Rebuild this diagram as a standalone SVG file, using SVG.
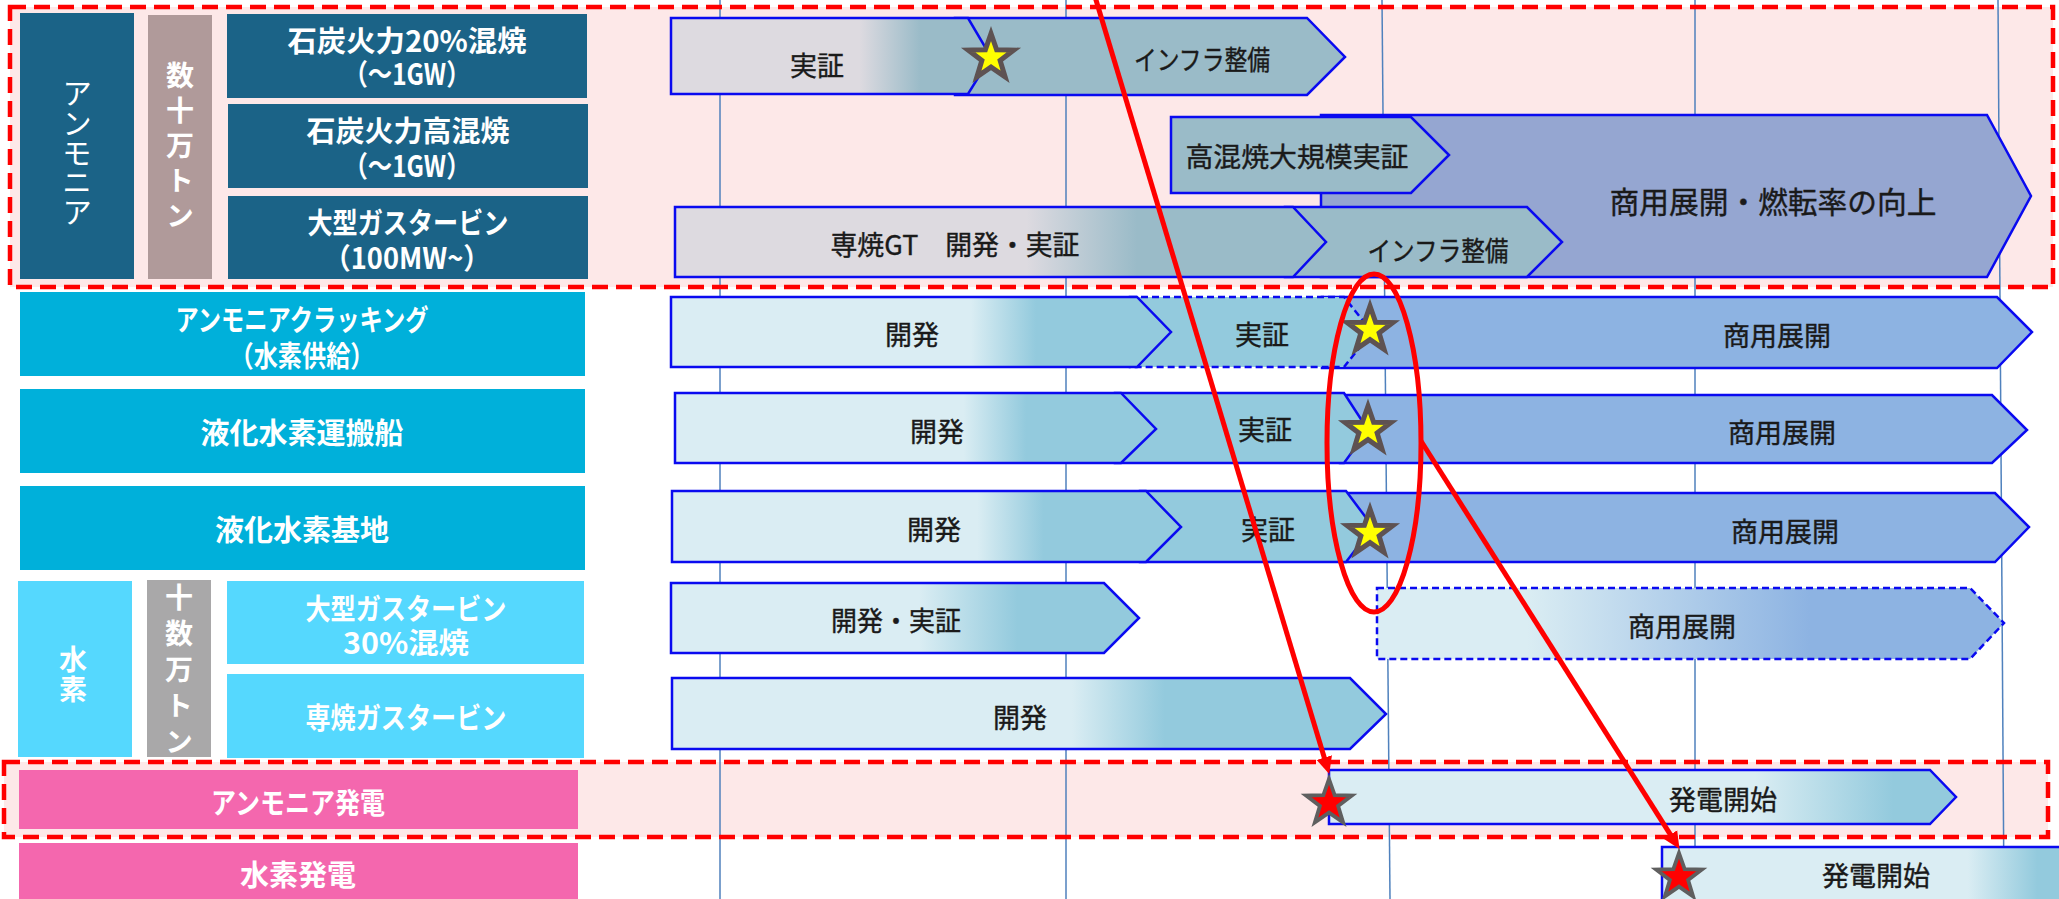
<svg xmlns="http://www.w3.org/2000/svg" width="2059" height="899" viewBox="0 0 2059 899">
<style>
.lbl{font-family:"Noto Sans CJK JP","Noto Sans",sans-serif;font-weight:bold;font-size:29px;fill:#ffffff;text-anchor:middle;dominant-baseline:central}
.vt{font-family:"Noto Sans CJK JP","Noto Sans",sans-serif;font-weight:bold;font-size:28px;fill:#ffffff;text-anchor:middle;dominant-baseline:central;writing-mode:vertical-rl}
.vtn{font-family:"Noto Sans CJK JP","Noto Sans",sans-serif;font-weight:normal;font-size:30px;fill:#ffffff;text-anchor:middle;dominant-baseline:central;writing-mode:vertical-rl}
.t{font-family:"Noto Sans CJK JP","Noto Sans",sans-serif;font-size:27px;fill:#1a1a1a;stroke:#1a1a1a;stroke-width:0.4;text-anchor:middle;dominant-baseline:central}
.bar{stroke:#0A0AF0;stroke-width:2.5;stroke-linejoin:miter}
.dash{stroke-dasharray:7 4}
.grid{stroke:#4F81BD;stroke-width:1.5}
.zone{fill:#FDE8E8}
.zoneb{fill:none;stroke:#FF0000;stroke-width:4.5;stroke-dasharray:16 8}
.ys{fill:#FFFF00;stroke:#5E5252;stroke-width:5}
.rs{fill:#FF0000;stroke:#5F5F5F;stroke-width:3.8}
.arr{stroke:#FF0000;stroke-width:5;fill:none}
.dk{fill:#1B6387}
.rg{fill:#B09A9A}
.cy{fill:#00B0DA}
.lc{fill:#55D8FE}
.gy{fill:#A9A8A9}
.pk{fill:#F467AE}
</style>
<defs>
<linearGradient id="g1" x1="0" y1="0" x2="1" y2="0"><stop offset="0.59" stop-color="#DDDAE0"/><stop offset="0.78" stop-color="#9ABBC8"/></linearGradient>
<linearGradient id="g3" x1="0" y1="0" x2="1" y2="0"><stop offset="0.54" stop-color="#DDDAE0"/><stop offset="0.71" stop-color="#9ABBC8"/></linearGradient>
<linearGradient id="gd" x1="0" y1="0" x2="1" y2="0"><stop offset="0.6" stop-color="#DAEDF3"/><stop offset="0.73" stop-color="#93CADD"/></linearGradient>
<linearGradient id="g7" x1="0" y1="0" x2="1" y2="0"><stop offset="0.53" stop-color="#DAEDF3"/><stop offset="0.74" stop-color="#93CADD"/></linearGradient>
<linearGradient id="g7b" x1="0" y1="0" x2="1" y2="0"><stop offset="0.24" stop-color="#DAEDF3"/><stop offset="0.69" stop-color="#8DB3E2"/></linearGradient>
<linearGradient id="g8" x1="0" y1="0" x2="1" y2="0"><stop offset="0.56" stop-color="#DAEDF3"/><stop offset="0.69" stop-color="#93CADD"/></linearGradient>
<linearGradient id="g9" x1="0" y1="0" x2="1" y2="0"><stop offset="0.68" stop-color="#DAEDF3"/><stop offset="0.9" stop-color="#93CADD"/></linearGradient>
<linearGradient id="g10" x1="0" y1="0" x2="1" y2="0"><stop offset="0.75" stop-color="#DAEDF3"/><stop offset="0.92" stop-color="#93CADD"/></linearGradient>
<path id="star" d="M0,-24 L5.64,-7.77 L22.83,-7.42 L9.13,2.97 L14.11,19.42 L0,9.6 L-14.11,19.42 L-9.13,2.97 L-22.83,-7.42 L-5.64,-7.77 Z"/>
<marker id="ah" markerUnits="userSpaceOnUse" markerWidth="17" markerHeight="17" viewBox="0 0 17 17" refX="8" refY="8.5" orient="auto"><path d="M0,0.5 L17,8.5 L0,16.5 Z" fill="#FF0000"/></marker>
</defs>

<rect width="2059" height="899" fill="#ffffff"/>

<g id="zones-bg">
<rect class="zone" x="10" y="7" width="2043" height="280"/>
<rect class="zone" x="4" y="762" width="2044" height="75"/>
</g>

<g id="grid">
<line class="grid" x1="720" y1="0" x2="720" y2="899"/>
<line class="grid" x1="1066" y1="0" x2="1066" y2="899"/>
<line class="grid" x1="1382" y1="0" x2="1390" y2="899"/>
<line class="grid" x1="1695" y1="0" x2="1695" y2="899"/>
<line class="grid" x1="1998" y1="0" x2="2004" y2="899"/>
</g>

<g id="label-ammonia">
<rect class="dk" x="20" y="13" width="114" height="266"/>
<text class="vtn" x="77" y="152" style="letter-spacing:-0.3px">アンモニア</text>
</g>
<g id="label-suju-man-ton">
<rect class="rg" x="148" y="15" width="64" height="264"/>
<text class="vt" x="180" y="149" style="letter-spacing:7px">数十万トン</text>
</g>
<g id="label-coal20">
<rect class="dk" x="227" y="14" width="360" height="84"/>
<text class="lbl"><tspan x="407" y="39" textLength="239" lengthAdjust="spacingAndGlyphs">石炭火力20%混焼</tspan><tspan x="407" y="72" textLength="127" lengthAdjust="spacingAndGlyphs">（～1GW）</tspan></text>
</g>
<g id="label-coalhigh">
<rect class="dk" x="228" y="104" width="360" height="84"/>
<text class="lbl"><tspan x="408" y="129">石炭火力高混焼</tspan><tspan x="407" y="164" textLength="127" lengthAdjust="spacingAndGlyphs">（～1GW）</tspan></text>
</g>
<g id="label-gt-ammonia">
<rect class="dk" x="228" y="196" width="360" height="83"/>
<text class="lbl"><tspan x="408" y="221" textLength="201" lengthAdjust="spacingAndGlyphs">大型ガスタービン</tspan><tspan x="407" y="256" textLength="167" lengthAdjust="spacingAndGlyphs">（100MW~）</tspan></text>
</g>
<g id="label-cracking">
<rect class="cy" x="20" y="292" width="565" height="84"/>
<text class="lbl"><tspan x="302" y="318" textLength="253" lengthAdjust="spacingAndGlyphs">アンモニアクラッキング</tspan><tspan x="302" y="354" textLength="145" lengthAdjust="spacingAndGlyphs">（水素供給）</tspan></text>
</g>
<g id="label-lh2-ship">
<rect class="cy" x="20" y="389" width="565" height="84"/>
<text class="lbl" x="302" y="431">液化水素運搬船</text>
</g>
<g id="label-lh2-base">
<rect class="cy" x="20" y="486" width="565" height="84"/>
<text class="lbl" x="302" y="528">液化水素基地</text>
</g>
<g id="label-hydrogen">
<rect class="lc" x="18" y="581" width="114" height="176"/>
<text class="vt" x="73" y="675" style="letter-spacing:2px">水素</text>
</g>
<g id="label-jusu-man-ton">
<rect class="gy" x="147" y="580" width="64" height="177"/>
<text class="vt" x="179" y="673" style="letter-spacing:8px">十数万トン</text>
</g>
<g id="label-gt30">
<rect class="lc" x="227" y="581" width="357" height="83"/>
<text class="lbl"><tspan x="406" y="607" textLength="201" lengthAdjust="spacingAndGlyphs">大型ガスタービン</tspan><tspan x="406" y="641" textLength="126" lengthAdjust="spacingAndGlyphs">30%混焼</tspan></text>
</g>
<g id="label-gt-mono">
<rect class="lc" x="227" y="674" width="357" height="84"/>
<text class="lbl" x="406" y="716" textLength="201" lengthAdjust="spacingAndGlyphs">専焼ガスタービン</text>
</g>
<g id="label-ammonia-power">
<rect class="pk" x="19" y="770" width="559" height="59"/>
<text class="lbl" x="298" y="801" textLength="174" lengthAdjust="spacingAndGlyphs">アンモニア発電</text>
</g>
<g id="label-h2-power">
<rect class="pk" x="19" y="843" width="559" height="60"/>
<text class="lbl" x="298" y="873">水素発電</text>
</g>

<g id="row1">
<path class="bar" fill="#9ABBC8" d="M955,18 L1307,18 L1345,57 L1307,95 L955,95 Z"/>
<path class="bar" fill="url(#g1)" d="M671,18 L968,18 L991,57 L968,94 L671,94 Z"/>
<text class="t" x="817" y="64">実証</text>
<text class="t" x="1202" y="58" textLength="136" lengthAdjust="spacingAndGlyphs">インフラ整備</text>
</g>
<g id="row-commercial-ammonia">
<path class="bar" fill="#95A6D1" d="M1321,115 L1987,115 L2031,196 L1987,277 L1321,277 Z"/>
<text class="t" style="font-size:30px" x="1773" y="200" textLength="327" lengthAdjust="spacingAndGlyphs">商用展開・燃転率の向上</text>
</g>
<g id="row2">
<path class="bar" fill="#9ABBC8" d="M1171,117 L1411,117 L1449,155 L1411,193 L1171,193 Z"/>
<text class="t" x="1297" y="155" textLength="223" lengthAdjust="spacingAndGlyphs">高混焼大規模実証</text>
</g>
<g id="row3">
<path class="bar" fill="#9ABBC8" d="M1285,207 L1527,207 L1562,242 L1527,277 L1285,277 Z"/>
<path class="bar" fill="url(#g3)" d="M675,207 L1293,207 L1326,242 L1293,277 L675,277 Z"/>
<text class="t" x="955" y="243" textLength="249" lengthAdjust="spacingAndGlyphs">専焼GT　開発・実証</text>
<text class="t" x="1438" y="249" textLength="141" lengthAdjust="spacingAndGlyphs">インフラ整備</text>
</g>
<g id="row4">
<path class="bar" fill="#8DB3E2" d="M1322,297 L1997,297 L2032,332 L1997,368 L1322,368 Z"/>
<path class="bar dash" fill="#93CADD" d="M1130,297 L1344,297 L1372,332 L1344,367 L1130,367 Z"/>
<path class="bar" fill="url(#gd)" d="M671,297 L1137,297 L1171,332 L1137,367 L671,367 Z"/>
<text class="t" x="912" y="333">開発</text>
<text class="t" x="1262" y="333">実証</text>
<text class="t" x="1777" y="334">商用展開</text>
</g>
<g id="row5">
<path class="bar" fill="#8DB3E2" d="M1340,395 L1992,395 L2027,430 L1992,463 L1340,463 Z"/>
<path class="bar" fill="#93CADD" d="M1115,393 L1344,393 L1368,430 L1344,463 L1115,463 Z"/>
<path class="bar" fill="url(#gd)" d="M675,393 L1121,393 L1156,429 L1121,463 L675,463 Z"/>
<text class="t" x="937" y="430">開発</text>
<text class="t" x="1265" y="428">実証</text>
<text class="t" x="1782" y="431">商用展開</text>
</g>
<g id="row6">
<path class="bar" fill="#8DB3E2" d="M1340,493 L1995,493 L2029,527 L1995,562 L1340,562 Z"/>
<path class="bar" fill="#93CADD" d="M1140,491 L1346,491 L1373,527 L1346,562 L1140,562 Z"/>
<path class="bar" fill="url(#gd)" d="M672,491 L1146,491 L1181,527 L1146,562 L672,562 Z"/>
<text class="t" x="934" y="528">開発</text>
<text class="t" x="1268" y="528">実証</text>
<text class="t" x="1785" y="530">商用展開</text>
</g>
<g id="row7">
<path class="bar" fill="url(#g7)" d="M671,583 L1104,583 L1139,618 L1104,653 L671,653 Z"/>
<path class="bar dash" fill="url(#g7b)" d="M1377,588 L1970,588 L2004,623 L1970,659 L1377,659 Z"/>
<text class="t" x="896" y="619" textLength="130" lengthAdjust="spacingAndGlyphs">開発・実証</text>
<text class="t" x="1682" y="625">商用展開</text>
</g>
<g id="row8">
<path class="bar" fill="url(#g8)" d="M672,678 L1350,678 L1386,714 L1350,749 L672,749 Z"/>
<text class="t" x="1020" y="716">開発</text>
</g>
<g id="row9">
<path class="bar" fill="url(#g9)" d="M1329,770 L1930,770 L1956,797 L1930,824 L1329,824 Z"/>
<text class="t" x="1723" y="798">発電開始</text>
</g>
<g id="row10">
<path class="bar" fill="url(#g10)" d="M1662,847 L2070,847 L2070,905 L1662,905 Z"/>
<text class="t" x="1876" y="874">発電開始</text>
</g>

<g id="zones-border">
<rect class="zoneb" x="10" y="7" width="2043" height="280"/>
<rect class="zoneb" x="4" y="762" width="2044" height="75"/>
</g>

<g id="stars">
<use href="#star" class="ys" transform="translate(991,57.5)"/>
<use href="#star" class="ys" transform="translate(1370,330)"/>
<use href="#star" class="ys" transform="translate(1368,430)"/>
<use href="#star" class="ys" transform="translate(1370,533)"/>
<use href="#star" class="rs" transform="translate(1329,803)"/>
<use href="#star" class="rs" transform="translate(1679,877)"/>
</g>

<g id="connectors">
<ellipse class="arr" cx="1374" cy="443" rx="47" ry="169"/>
<line class="arr" x1="1094.5" y1="-5" x2="1326.6" y2="765.3" marker-end="url(#ah)"/>
<line class="arr" x1="1421" y1="441" x2="1674.7" y2="841.3" marker-end="url(#ah)"/>
</g>
</svg>
